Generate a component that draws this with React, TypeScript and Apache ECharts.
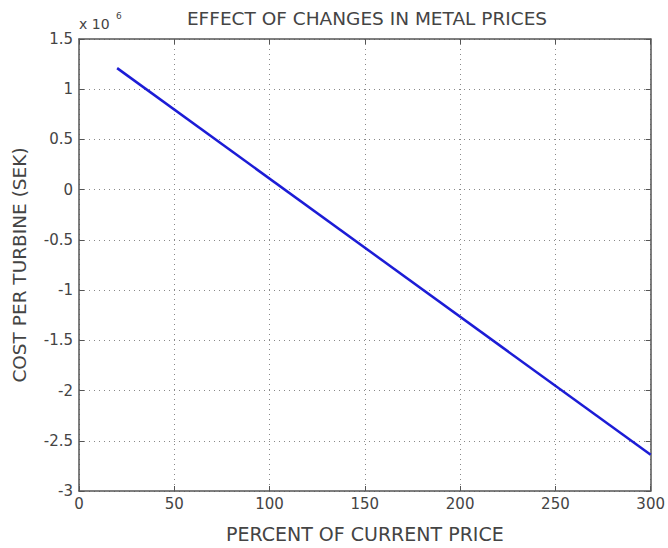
import React, { useEffect, useRef } from "react";
import * as echarts from "echarts";

const titleText = "EFFECT OF CHANGES IN METAL PRICES";
const xAxisName = "PERCENT OF CURRENT PRICE";
const yAxisName = "COST PER TURBINE (SEK)";
const xValues = [20, 300];
const yValues = [1.21, -2.64]; // in units of 10^6 SEK

export default function App() {
  const ref = useRef<HTMLDivElement>(null);
  useEffect(() => {
    if (!ref.current) return;
    const chart = echarts.init(ref.current, undefined, { renderer: "svg" });
    const font = "DejaVu Sans, Arial, sans-serif";
    const textColor = "#444";
    const axisColor = "#555";
    const gridStyle = { color: "#888", type: [1, 4] as any, width: 1 };
    chart.setOption({
      animation: false,
      backgroundColor: "#fff",
      title: {
        text: titleText,
        left: 362,
        top: 4,
        textAlign: "center",
        textStyle: { fontFamily: font, fontSize: 18.5, fontWeight: "normal", color: textColor },
      },
      grid: { left: 79, right: 15, top: 39, bottom: 57, containLabel: false },
      xAxis: [
        {
          type: "value",
          min: 0,
          max: 300,
          interval: 50,
          position: "bottom",
          name: xAxisName,
          nameLocation: "middle",
          nameGap: 33,
          nameTextStyle: { fontFamily: font, fontSize: 19, color: textColor },
          axisLine: { show: true, onZero: false, lineStyle: { color: axisColor, width: 1.5 } },
          axisTick: { show: true, inside: true, length: 5, lineStyle: { color: axisColor } },
          axisLabel: { fontFamily: font, fontSize: 15, color: textColor, margin: 5 },
          splitLine: { show: true, lineStyle: gridStyle },
        },
        {
          type: "value",
          min: 0,
          max: 300,
          interval: 50,
          position: "top",
          axisLine: { show: true, onZero: false, lineStyle: { color: axisColor, width: 1.5 } },
          axisTick: { show: true, inside: true, length: 5, lineStyle: { color: axisColor } },
          axisLabel: { show: false },
          splitLine: { show: false },
        },
      ],
      yAxis: [
        {
          type: "value",
          min: -3,
          max: 1.5,
          interval: 0.5,
          position: "left",
          name: yAxisName,
          nameLocation: "middle",
          nameGap: 50,
          nameTextStyle: { fontFamily: font, fontSize: 18.5, color: textColor },
          axisLine: { show: true, onZero: false, lineStyle: { color: axisColor, width: 1.5 } },
          axisTick: { show: true, inside: true, length: 5, lineStyle: { color: axisColor } },
          axisLabel: { fontFamily: font, fontSize: 15, color: textColor, margin: 6 },
          splitLine: { show: true, lineStyle: gridStyle },
        },
        {
          type: "value",
          min: -3,
          max: 1.5,
          interval: 0.5,
          position: "right",
          axisLine: { show: true, onZero: false, lineStyle: { color: axisColor, width: 1.5 } },
          axisTick: { show: true, inside: true, length: 5, lineStyle: { color: axisColor } },
          axisLabel: { show: false },
          splitLine: { show: false },
        },
      ],
      graphic: [
        {
          type: "text",
          left: 79,
          top: 17,
          style: { text: "x 10", fontFamily: font, fontSize: 14, fill: textColor },
        },
        {
          type: "text",
          left: 116,
          top: 11,
          style: { text: "6", fontFamily: font, fontSize: 9, fill: textColor },
        },
      ],
      series: [
        {
          type: "line",
          xAxisIndex: 0,
          yAxisIndex: 0,
          data: xValues.map((x, i) => [x, yValues[i]]),
          showSymbol: false,
          symbol: "none",
          lineStyle: { color: "#1c1cd6", width: 2.5 },
        },
      ],
    });
    return () => chart.dispose();
  }, []);
  return <div ref={ref} style={{ width: 668, height: 548, position: "absolute", left: 0, top: 0 }} />;
}
